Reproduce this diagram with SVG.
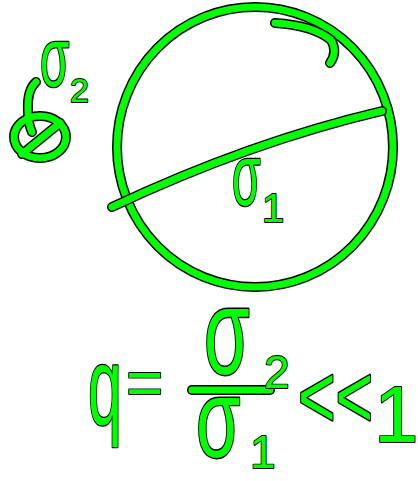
<svg xmlns="http://www.w3.org/2000/svg" width="418" height="481" viewBox="0 0 418 481">
<style>
.o{fill:none;stroke:#000;stroke-width:10;stroke-linecap:round;stroke-linejoin:round}
.g{fill:none;stroke:#00ff00;stroke-width:7;stroke-linecap:round;stroke-linejoin:round}
.t{font-family:"Liberation Sans","DejaVu Sans",sans-serif;fill:#00ff00;stroke:#000;stroke-width:1.8;paint-order:stroke fill;stroke-linejoin:round}
</style>
<defs>
<ellipse id="bigCircle" cx="255" cy="147" rx="138" ry="140"/>
<path id="diam" d="M112,207 Q250,142 382,111"/>
<path id="arc" d="M275,23 Q312,25 331,40 Q338,52 330,63"/>
<ellipse id="small1" cx="40" cy="137" rx="26" ry="21"/>
<path id="small2" d="M22,154 L60,123"/>
<path id="small3" d="M36,82 Q27,90 28,110 Q28,124 32,132"/>
<path id="bar" d="M192,390 L270,390"/>
</defs>
<g id="big-sphere">
<use href="#bigCircle" class="o"/><use href="#bigCircle" class="g"/>
</g>
<g id="connectors">
<use href="#diam" class="o"/><use href="#diam" class="g"/>
<use href="#arc" class="o"/><use href="#arc" class="g"/>
</g>
<g id="small-sphere">
<use href="#small1" class="o"/><use href="#small2" class="o"/><use href="#small3" class="o"/>
<use href="#small1" class="g"/><use href="#small2" class="g"/><use href="#small3" class="g"/>
</g>
<g id="label-sigma2">
<text class="t" font-size="56" transform="translate(40,86) scale(0.85,1.5)">σ</text>
<text class="t" font-size="34" x="70" y="102">2</text>
</g>
<g id="label-sigma1">
<text class="t" font-size="58" transform="translate(232,205) scale(0.8,1.5)">σ</text>
<text class="t" font-size="40" x="262" y="222">1</text>
</g>
<g id="formula">
<text class="t" font-size="76" transform="translate(88,424) scale(0.8,1.45)">q</text>
<text class="t" font-size="64" x="126" y="405">=</text>
<use href="#bar" class="o"/><use href="#bar" class="g"/>
<text class="t" font-size="74" transform="translate(204,374) scale(1,1.65)">σ</text>
<text class="t" font-size="46" x="264" y="388">2</text>
<text class="t" font-size="72" transform="translate(196,457) scale(1,1.55)">σ</text>
<text class="t" font-size="46" x="250" y="468">1</text>
<text class="t" font-size="56" transform="translate(298,427) scale(1.15,1.6)">&lt;&lt;</text>
<text class="t" font-size="80" x="374" y="442">1</text>
</g>
</svg>
